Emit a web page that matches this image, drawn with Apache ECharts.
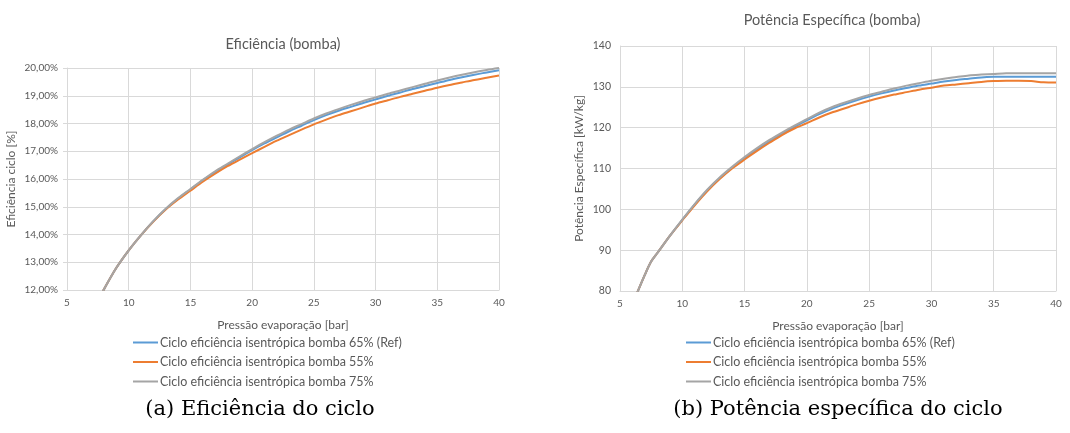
<!DOCTYPE html>
<html>
<head>
<meta charset="utf-8">
<title>Eficiência e Potência Específica (bomba)</title>
<script src="https://cdn.jsdelivr.net/npm/echarts@6/dist/echarts.min.js"></script>
<style>
    html, body { margin: 0; padding: 0; background: #fff; }
    #chart { width: 1070px; height: 433px; }
</style>
</head>
<body>
<div id="chart"></div>
<script>
// Pressão de evaporação [bar] - gráfico (a)
const pressaoEf = [7, 8, 9, 10, 11, 12, 13, 14, 15, 16, 17, 18, 19, 20, 21, 22, 23, 24, 25, 26, 27, 28, 29, 30, 31, 32, 33, 34, 35, 36, 37, 38, 39, 40];
// Eficiência do ciclo [%]
const efic65 = [11.2, 12.03, 12.8, 13.43, 13.98, 14.48, 14.92, 15.29, 15.62, 15.95, 16.25, 16.52, 16.78, 17.04, 17.28, 17.5, 17.72, 17.92, 18.12, 18.3, 18.46, 18.6, 18.74, 18.87, 19.0, 19.12, 19.24, 19.35, 19.46, 19.57, 19.67, 19.76, 19.84, 19.92];
const efic55 = [11.2, 12.03, 12.8, 13.43, 13.98, 14.47, 14.9, 15.26, 15.58, 15.9, 16.19, 16.46, 16.7, 16.93, 17.16, 17.38, 17.58, 17.78, 17.97, 18.14, 18.3, 18.44, 18.58, 18.72, 18.84, 18.96, 19.07, 19.18, 19.29, 19.39, 19.48, 19.57, 19.65, 19.73];
const efic75 = [11.2, 12.03, 12.8, 13.43, 13.98, 14.48, 14.93, 15.31, 15.64, 15.97, 16.28, 16.55, 16.82, 17.08, 17.33, 17.56, 17.78, 17.98, 18.18, 18.36, 18.52, 18.67, 18.81, 18.94, 19.07, 19.19, 19.31, 19.43, 19.55, 19.66, 19.76, 19.85, 19.93, 20.0];

// Pressão de evaporação [bar] - gráfico (b)
const pressaoPot = [6, 7, 7.5, 8, 9, 10, 11, 12, 13, 14, 15, 16, 17, 18, 19, 20, 21, 22, 23, 24, 25, 26, 27, 28, 29, 30, 31, 32, 33, 34, 35, 36, 37, 38, 39, 40];
// Potência específica [kW/kg]
const pot65 = [76.8, 84.0, 87.2, 89.3, 93.5, 97.4, 101.2, 104.6, 107.6, 110.2, 112.5, 114.6, 116.6, 118.5, 120.2, 121.8, 123.3, 124.6, 125.7, 126.7, 127.6, 128.4, 129.1, 129.7, 130.3, 130.8, 131.3, 131.7, 132.0, 132.3, 132.45, 132.5, 132.5, 132.5, 132.5, 132.5];
const pot55 = [76.8, 84.0, 87.2, 89.3, 93.5, 97.3, 101.0, 104.4, 107.4, 110.0, 112.2, 114.3, 116.3, 118.2, 119.8, 121.1, 122.5, 123.7, 124.7, 125.7, 126.6, 127.4, 128.1, 128.7, 129.3, 129.8, 130.3, 130.6, 130.9, 131.2, 131.4, 131.5, 131.5, 131.4, 131.1, 131.05];
const pot75 = [76.8, 84.0, 87.2, 89.3, 93.5, 97.5, 101.3, 104.8, 107.8, 110.4, 112.8, 115.0, 117.0, 118.8, 120.5, 122.1, 123.7, 125.0, 126.1, 127.1, 128.0, 128.8, 129.6, 130.3, 130.9, 131.5, 132.0, 132.4, 132.8, 133.0, 133.15, 133.3, 133.35, 133.35, 133.35, 133.35];

const nomes = [
    'Ciclo eficiência isentrópica bomba 65% (Ref)',
    'Ciclo eficiência isentrópica bomba 55%',
    'Ciclo eficiência isentrópica bomba 75%'
];
const cores = ['#5B9BD5', '#ED7D31', '#A5A5A5'];

const fonte = 'Lato, "Open Sans", sans-serif';
const cinzaTexto = '#595959';
const cinzaGrade = '#d9d9d9';

// junta x e y em pares
function pares(xs, ys) {
    return xs.map((x, i) => [x, ys[i]]);
}

function serie(nome, idx, xs, ys, eixo) {
    return {
        name: nome,
        type: 'line',
        xAxisIndex: eixo,
        yAxisIndex: eixo,
        data: pares(xs, ys),
        showSymbol: false,
        smooth: 0.3,
        clip: true,
        lineStyle: { width: 2, color: cores[idx] },
        itemStyle: { color: cores[idx] }
    };
}

function eixoX(idx) {
    return {
        type: 'value',
        gridIndex: idx,
        min: 5,
        max: 40,
        interval: 5,
        name: 'Pressão evaporação [bar]',
        nameLocation: 'middle',
        nameGap: 29,
        nameTextStyle: { color: cinzaTexto, fontFamily: fonte, fontSize: 12 },
        axisLine: { show: true, lineStyle: { color: cinzaGrade } },
        axisTick: { show: false },
        axisLabel: { color: cinzaTexto, fontFamily: fonte, fontSize: 10, margin: 8 },
        splitLine: { show: true, lineStyle: { color: cinzaGrade } }
    };
}

function legenda(esq) {
    return {
        data: nomes,
        orient: 'vertical',
        left: esq,
        top: 331,
        icon: 'rect',
        itemWidth: 25,
        itemHeight: 2,
        itemGap: 6.5,
        textStyle: { color: cinzaTexto, fontFamily: fonte, fontSize: 12.5, padding: [0, 0, 0, -3] }
    };
}

const myChart = echarts.init(document.getElementById('chart'));

const option = {
    animation: false,
    backgroundColor: '#fff',
    title: [
        {
            text: 'Eficiência (bomba)',
            left: 278,
            top: 32,
            textAlign: 'center',
            textStyle: { color: cinzaTexto, fontFamily: fonte, fontSize: 14.5, fontWeight: 'normal' }
        },
        {
            text: 'Potência Específica (bomba)',
            left: 827,
            top: 8,
            textAlign: 'center',
            textStyle: { color: cinzaTexto, fontFamily: fonte, fontSize: 14.5, fontWeight: 'normal' }
        }
    ],
    legend: [legenda(128), legenda(681)],
    grid: [
        { left: 67, top: 68, width: 432, height: 222 },
        { left: 620, top: 46, width: 436, height: 245 }
    ],
    xAxis: [eixoX(0), eixoX(1)],
    yAxis: [
        {
            type: 'value',
            gridIndex: 0,
            min: 12,
            max: 20,
            interval: 1,
            name: 'Eficiência ciclo [%]',
            nameLocation: 'middle',
            nameGap: 50,
            nameTextStyle: { color: cinzaTexto, fontFamily: fonte, fontSize: 12 },
            axisLine: { show: true, lineStyle: { color: cinzaGrade } },
            axisTick: { show: true, length: 4, lineStyle: { color: cinzaGrade } },
            axisLabel: {
                color: cinzaTexto, fontFamily: fonte, fontSize: 10, margin: 9,
                formatter: v => v.toFixed(2).replace('.', ',') + '%'
            },
            splitLine: { show: true, lineStyle: { color: cinzaGrade } }
        },
        {
            type: 'value',
            gridIndex: 1,
            min: 80,
            max: 140,
            interval: 10,
            name: 'Potência Específica [kW/kg]',
            nameLocation: 'middle',
            nameGap: 35,
            nameTextStyle: { color: cinzaTexto, fontFamily: fonte, fontSize: 12 },
            axisLine: { show: true, lineStyle: { color: cinzaGrade } },
            axisTick: { show: false },
            axisLabel: { color: cinzaTexto, fontFamily: fonte, fontSize: 10.5, margin: 9 },
            splitLine: { show: true, lineStyle: { color: cinzaGrade } }
        }
    ],
    series: [
        serie(nomes[0], 0, pressaoEf, efic65, 0),
        serie(nomes[1], 1, pressaoEf, efic55, 0),
        serie(nomes[2], 2, pressaoEf, efic75, 0),
        serie(nomes[0], 0, pressaoPot, pot65, 1),
        serie(nomes[1], 1, pressaoPot, pot55, 1),
        serie(nomes[2], 2, pressaoPot, pot75, 1)
    ],
    // legendas das subfiguras
    graphic: [
        {
            type: 'text',
            x: 260,
            y: 410,
            style: {
                text: '(a) Eficiência do ciclo', font: '21px "DejaVu Serif", serif', fill: '#000',
                align: 'center', verticalAlign: 'middle'
            }
        },
        {
            type: 'text',
            x: 838,
            y: 410,
            style: {
                text: '(b) Potência específica do ciclo', font: '21px "DejaVu Serif", serif', fill: '#000',
                align: 'center', verticalAlign: 'middle'
            }
        }
    ]
};

myChart.setOption(option);
</script>
</body>
</html>
